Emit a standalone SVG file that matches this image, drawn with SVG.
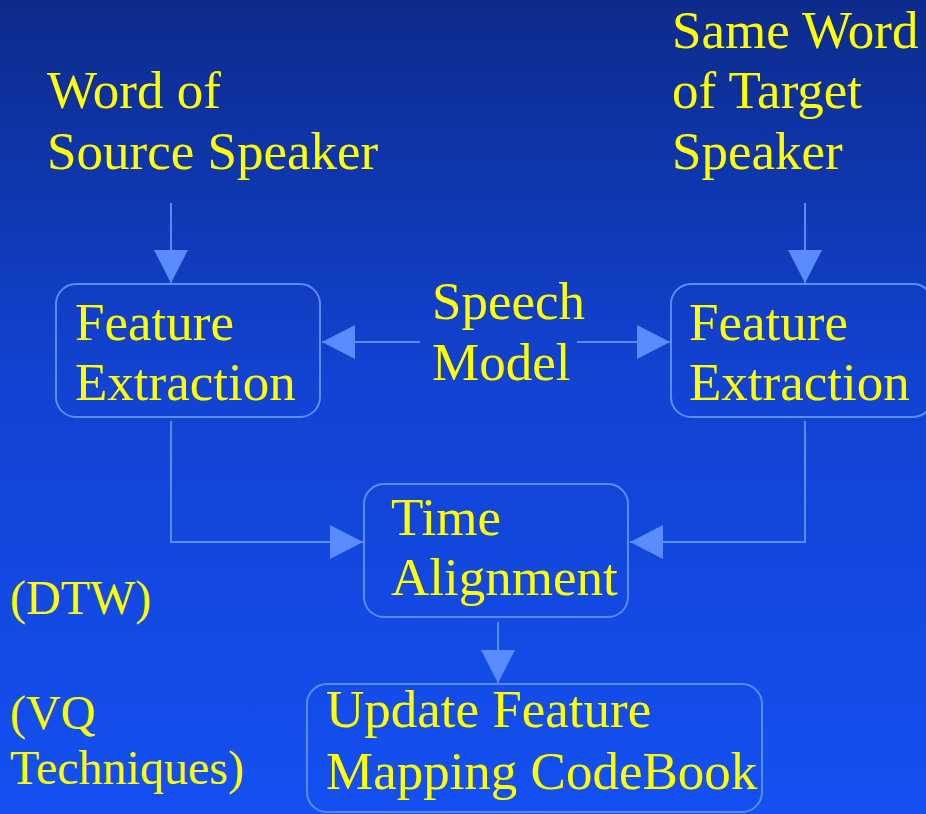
<svg xmlns="http://www.w3.org/2000/svg" width="926" height="814" viewBox="0 0 926 814">
  <defs>
    <linearGradient id="bg" x1="0" y1="0" x2="0" y2="1">
      <stop offset="0" stop-color="#0c2b8c"/>
      <stop offset="0.45" stop-color="#1242d0"/>
      <stop offset="1" stop-color="#1450f2"/>
    </linearGradient>
    <marker id="arrow" markerUnits="userSpaceOnUse" markerWidth="34" markerHeight="34" refX="33" refY="17" orient="auto">
      <path d="M0,0 L33,17 L0,34 z" fill="#5b8cff"/>
    </marker>
  </defs>
  <style>
    .box { fill: none; stroke: #5b8cff; stroke-width: 2; }
    .conn { fill: none; stroke: #5b8cff; stroke-width: 2; marker-end: url(#arrow); }
    text { font-family: "Liberation Serif", "Times New Roman", serif; font-size: 53px; fill: #ffff00; }
    text.note { font-size: 48px; }
  </style>

  <rect x="0" y="0" width="926" height="814" fill="url(#bg)"/>

  <!-- free labels -->
  <g id="source-word">
    <text x="47" y="108">Word of</text>
    <text x="47" y="169">Source Speaker</text>
  </g>
  <g id="target-word">
    <text x="672" y="48">Same Word</text>
    <text x="672" y="108">of Target</text>
    <text x="672" y="169">Speaker</text>
  </g>
  <g id="speech-model">
    <text x="432" y="319">Speech</text>
    <text x="432" y="380">Model</text>
  </g>
  <g id="dtw-note">
    <text class="note" x="10" y="614">(DTW)</text>
  </g>
  <g id="vq-note">
    <text class="note" x="10" y="729">(VQ</text>
    <text class="note" x="10" y="784">Techniques)</text>
  </g>

  <!-- process boxes -->
  <g id="fe-source">
    <rect class="box" x="56" y="284" width="264" height="133" rx="20"/>
    <text x="75" y="340">Feature</text>
    <text x="75" y="400">Extraction</text>
  </g>
  <g id="fe-target">
    <rect class="box" x="671" y="284" width="262" height="133" rx="20"/>
    <text x="689" y="340">Feature</text>
    <text x="689" y="400">Extraction</text>
  </g>
  <g id="time-alignment">
    <rect class="box" x="364" y="484" width="264" height="133" rx="20"/>
    <text x="391" y="535">Time</text>
    <text x="391" y="595">Alignment</text>
  </g>
  <g id="update-codebook">
    <rect class="box" x="307" y="684" width="455" height="128" rx="20"/>
    <text x="326" y="727">Update Feature</text>
    <text x="326" y="789">Mapping CodeBook</text>
  </g>

  <!-- connectors -->
  <g id="connectors">
    <path class="conn" d="M171,203 V283"/>
    <path class="conn" d="M805,203 V283"/>
    <path class="conn" d="M420,342 H322"/>
    <path class="conn" d="M577,342 H670"/>
    <path class="conn" d="M171,421 V542 H363"/>
    <path class="conn" d="M805,421 V542 H630"/>
    <path class="conn" d="M498,622 V683"/>
  </g>
</svg>
